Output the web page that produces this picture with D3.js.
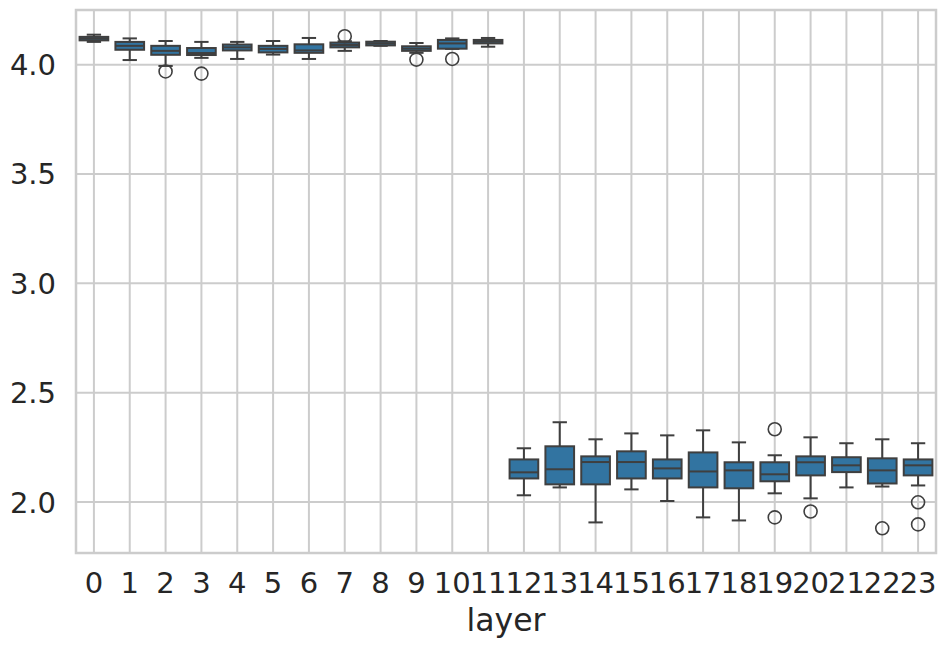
<!DOCTYPE html>
<html>
<head>
<meta charset="utf-8">
<script src="https://cdn.jsdelivr.net/npm/d3@7"></script>
<style>
  html, body { margin: 0; padding: 0; background: #fff; }
  svg { display: block; }
  text { font-family: "DejaVu Sans", sans-serif; fill: #262626; }
</style>
</head>
<body>
<svg id="chart" width="946" height="648"></svg>
<script>
// Data (per layer box statistics)
const layers = ["0","1","2","3","4","5","6","7","8","9","10","11","12","13","14","15","16","17","18","19","20","21","22","23"];
const q1Values     = [4.111,4.068,4.045,4.044,4.065,4.056,4.054,4.079,4.088,4.063,4.073,4.097,2.108,2.081,2.081,2.108,2.108,2.067,2.063,2.095,2.122,2.137,2.085,2.122];
const medianValues = [4.119,4.086,4.063,4.053,4.079,4.072,4.065,4.090,4.097,4.073,4.097,4.105,2.136,2.150,2.183,2.183,2.154,2.140,2.145,2.127,2.182,2.168,2.145,2.168];
const q3Values     = [4.127,4.104,4.086,4.076,4.092,4.086,4.093,4.101,4.105,4.084,4.113,4.113,2.195,2.255,2.209,2.232,2.195,2.227,2.182,2.182,2.209,2.205,2.200,2.195];
const whiskerLow   = [4.104,4.021,3.994,4.031,4.026,4.046,4.026,4.063,4.086,4.054,4.072,4.082,2.031,2.067,1.907,2.058,2.005,1.930,1.916,2.040,2.017,2.067,2.071,2.076];
const whiskerHigh  = [4.137,4.120,4.108,4.104,4.104,4.108,4.122,4.107,4.108,4.099,4.120,4.122,2.246,2.365,2.287,2.314,2.305,2.328,2.273,2.214,2.296,2.269,2.287,2.269];
const outliers = [
  [], [], [3.969], [3.959], [], [], [], [4.130], [], [4.023], [4.026], [],
  [], [], [], [], [], [], [], [2.333, 1.930], [1.957], [], [1.880], [1.999, 1.898]
];
const yTicks = [2.0, 2.5, 3.0, 3.5, 4.0];
const xLabel = "layer";

const W = 946, H = 648;
const margin = { left: 76, right: 10, top: 10, bottom: 95 };
const svg = d3.select("#chart");

const x = d3.scaleBand().domain(layers).range([margin.left, W - margin.right]).paddingInner(0).paddingOuter(0);

const allVals = whiskerLow.concat(whiskerHigh, outliers.flat());
const vmin = d3.min(allVals), vmax = d3.max(allVals);
const pad = (vmax - vmin) * 0.05;
const y = d3.scaleLinear().domain([vmin - pad, vmax + pad]).range([H - margin.bottom, margin.top]);

const gridColor = "#cccccc";
// grid lines
svg.append("g").selectAll("line.hg").data(yTicks).join("line")
  .attr("x1", margin.left).attr("x2", W - margin.right)
  .attr("y1", d => y(d)).attr("y2", d => y(d))
  .attr("stroke", gridColor).attr("stroke-width", 2);
svg.append("g").selectAll("line.vg").data(layers).join("line")
  .attr("x1", d => x(d) + x.bandwidth() / 2).attr("x2", d => x(d) + x.bandwidth() / 2)
  .attr("y1", margin.top).attr("y2", H - margin.bottom)
  .attr("stroke", gridColor).attr("stroke-width", 2);

// spines
svg.append("rect")
  .attr("x", margin.left).attr("y", margin.top)
  .attr("width", W - margin.left - margin.right).attr("height", H - margin.top - margin.bottom)
  .attr("fill", "none").attr("stroke", gridColor).attr("stroke-width", 2.5);

// boxes
const boxFill = "#3274a1", edge = "#3f3f3f";
const bw = x.bandwidth() * 0.8;
const capW = bw * 0.5;
const g = svg.append("g");
layers.forEach((L, i) => {
  const cx = x(L) + x.bandwidth() / 2;
  const gg = g.append("g");
  // whiskers
  gg.append("line").attr("x1", cx).attr("x2", cx).attr("y1", y(q3Values[i])).attr("y2", y(whiskerHigh[i]))
    .attr("stroke", edge).attr("stroke-width", 2);
  gg.append("line").attr("x1", cx).attr("x2", cx).attr("y1", y(q1Values[i])).attr("y2", y(whiskerLow[i]))
    .attr("stroke", edge).attr("stroke-width", 2);
  // caps
  [whiskerHigh[i], whiskerLow[i]].forEach(v => {
    gg.append("line").attr("x1", cx - capW / 2).attr("x2", cx + capW / 2).attr("y1", y(v)).attr("y2", y(v))
      .attr("stroke", edge).attr("stroke-width", 2);
  });
  // box
  gg.append("rect").attr("x", cx - bw / 2).attr("width", bw)
    .attr("y", y(q3Values[i])).attr("height", Math.max(0.5, y(q1Values[i]) - y(q3Values[i])))
    .attr("fill", boxFill).attr("stroke", edge).attr("stroke-width", 2);
  // median
  gg.append("line").attr("x1", cx - bw / 2).attr("x2", cx + bw / 2)
    .attr("y1", y(medianValues[i])).attr("y2", y(medianValues[i]))
    .attr("stroke", edge).attr("stroke-width", 2);
  // outliers
  gg.selectAll("circle").data(outliers[i]).join("circle")
    .attr("cx", cx).attr("cy", d => y(d)).attr("r", 6.5)
    .attr("fill", "none").attr("stroke", edge).attr("stroke-width", 1.6);
});

// y tick labels
svg.append("g").selectAll("text").data(yTicks).join("text")
  .attr("x", margin.left - 20).attr("y", d => y(d)).attr("dy", "0.36em")
  .attr("text-anchor", "end").attr("font-size", 29)
  .text(d => d.toFixed(1));

// x tick labels
svg.append("g").selectAll("text").data(layers).join("text")
  .attr("x", d => x(d) + x.bandwidth() / 2).attr("y", H - margin.bottom + 40)
  .attr("text-anchor", "middle").attr("font-size", 29)
  .text(d => d);

// x label
svg.append("text")
  .attr("x", (margin.left + W - margin.right) / 2).attr("y", 631)
  .attr("text-anchor", "middle").attr("font-size", 31.5)
  .text(xLabel);
</script>
</body>
</html>
